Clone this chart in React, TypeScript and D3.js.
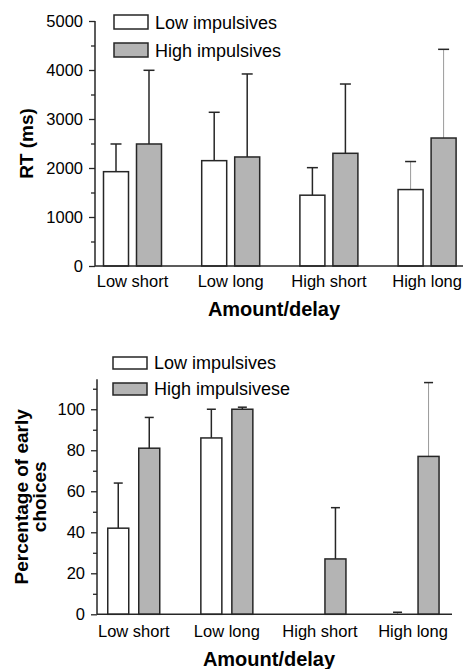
import React, { useEffect, useRef } from "react";
import * as d3 from "d3";

const categories = ["Low short", "Low long", "High short", "High long"];
const series = ["Low impulsives", "High impulsives"];
const series2 = ["Low impulsives", "High impulsivese"];

// RT (ms): means and upper error (SD)
const rtLowMean = [1925, 2150, 1445, 1560];
const rtLowSd = [565, 987, 562, 572];
const rtHighMean = [2490, 2225, 2300, 2612];
const rtHighSd = [1504, 1694, 1414, 1810];
const rtTicks = [0, 1000, 2000, 3000, 4000, 5000];

// Percentage of early choices
const pctLowMean = [42, 86, 0, 0];
const pctLowSd = [22, 14, 0, 1];
const pctHighMean = [81, 100, 27, 77];
const pctHighSd = [15, 1, 25, 36];
const pctTicks = [0, 20, 40, 60, 80, 100];

const FONT = "'Liberation Sans', Arial, Helvetica, sans-serif";
const INK = "#262626";
const FILLS = ["#ffffff", "#b4b4b4"];

type PanelOpts = {
  g: d3.Selection<SVGGElement, unknown, null, undefined>;
  axisX: number;
  yTop: number;
  yBottom: number;
  domainMax: number;
  ticks: number[];
  minorStep: number;
  xRange: [number, number];
  innerWidth: number;
  innerPad: number;
  axisEnd: number;
  means: number[][];
  sds: number[][];
  capW: number;
  names: string[];
  legendX: number;
  legendY: number[];
  legendBoxH: number;
  labelY: number;
  titleY: number;
  titleX: number;
  yTitle: string[];
  yTitleX: number;
};

function drawPanel(o: PanelOpts) {
  const { g } = o;
  const y = d3.scaleLinear().domain([0, o.domainMax]).range([o.yBottom, o.yTop]);
  const x0 = d3.scaleBand().domain(categories).range(o.xRange).padding(0);
  const x1 = d3
    .scaleBand()
    .domain(["0", "1"])
    .range([0, o.innerWidth])
    .paddingInner(o.innerPad)
    .paddingOuter(0);

  // bars + error bars
  categories.forEach((c, i) => {
    const cx = (x0(c) as number) + x0.bandwidth() / 2 - o.innerWidth / 2;
    [0, 1].forEach((s) => {
      const v = o.means[s][i];
      const sd = o.sds[s][i];
      const bx = cx + (x1(String(s)) as number);
      const mid = bx + x1.bandwidth() / 2;
      const light = c === "High long";
      if (sd > 0) {
        g.append("line")
          .attr("x1", mid)
          .attr("x2", mid)
          .attr("y1", y(v))
          .attr("y2", y(v + sd))
          .attr("stroke", light ? "#9a9a9a" : INK)
          .attr("stroke-width", light ? 1 : 1.5);
        g.append("line")
          .attr("x1", mid - o.capW / 2)
          .attr("x2", mid + o.capW / 2)
          .attr("y1", y(v + sd))
          .attr("y2", y(v + sd))
          .attr("stroke", INK)
          .attr("stroke-width", 1.5);
      }
      if (v > 0) {
        g.append("rect")
          .attr("x", bx)
          .attr("y", y(v))
          .attr("width", x1.bandwidth())
          .attr("height", y(0) - y(v))
          .attr("fill", FILLS[s])
          .attr("stroke", INK)
          .attr("stroke-width", 1.5);
      }
    });
  });

  // y axis: major and minor ticks
  const minor = d3.range(0, o.domainMax + 0.001, o.minorStep).filter((t) => !o.ticks.includes(t));
  const yMinor = g
    .append("g")
    .attr("transform", `translate(${o.axisX},0)`)
    .call(d3.axisLeft(y).tickValues(minor).tickSize(4).tickFormat(() => ""));
  yMinor.select(".domain").remove();
  yMinor.selectAll("line").attr("stroke", INK).attr("stroke-width", 1.3);

  const yAxis = g
    .append("g")
    .attr("transform", `translate(${o.axisX},0)`)
    .call(d3.axisLeft(y).tickValues(o.ticks).tickSize(6).tickPadding(6).tickFormat(d3.format("d")));
  yAxis.select(".domain").attr("d", `M0,${o.yTop}V${o.yBottom}`).attr("stroke", INK).attr("stroke-width", 1.5);
  yAxis.selectAll("line").attr("stroke", INK).attr("stroke-width", 1.3);
  yAxis.selectAll("text").attr("font-family", FONT).attr("font-size", 16.5).attr("fill", "#000");

  // x axis line
  g.append("line")
    .attr("x1", o.axisX)
    .attr("x2", o.axisEnd)
    .attr("y1", o.yBottom)
    .attr("y2", o.yBottom)
    .attr("stroke", INK)
    .attr("stroke-width", 1.5);

  // category labels
  g.selectAll("text.cat")
    .data(categories)
    .enter()
    .append("text")
    .attr("class", "cat")
    .attr("x", (d) => (x0(d) as number) + x0.bandwidth() / 2)
    .attr("y", o.labelY)
    .attr("text-anchor", "middle")
    .attr("font-family", FONT)
    .attr("font-size", 16.5)
    .attr("fill", "#000")
    .text((d) => d);

  g.append("text")
    .attr("x", o.titleX)
    .attr("y", o.titleY)
    .attr("text-anchor", "middle")
    .attr("font-family", FONT)
    .attr("font-size", 20)
    .attr("font-weight", "bold")
    .attr("fill", "#000")
    .text("Amount/delay");

  // y title (rotated)
  const cy = (o.yTop + o.yBottom) / 2;
  o.yTitle.forEach((t, k) => {
    const tx = o.yTitleX + k * 18;
    g.append("text")
      .attr("transform", `translate(${tx},${cy}) rotate(-90)`)
      .attr("text-anchor", "middle")
      .attr("font-family", FONT)
      .attr("font-size", 19)
      .attr("font-weight", "bold")
      .attr("fill", "#000")
      .text(t);
  });

  // legend
  o.names.forEach((n, s) => {
    g.append("rect")
      .attr("x", o.legendX)
      .attr("y", o.legendY[s])
      .attr("width", 34)
      .attr("height", o.legendBoxH)
      .attr("fill", FILLS[s])
      .attr("stroke", INK)
      .attr("stroke-width", 1.5);
    g.append("text")
      .attr("x", o.legendX + 41)
      .attr("y", o.legendY[s] + o.legendBoxH - 0.5)
      .attr("font-family", FONT)
      .attr("font-size", 18)
      .attr("fill", "#000")
      .text(n);
  });
}

export default function App() {
  const ref = useRef<SVGSVGElement>(null);

  useEffect(() => {
    const svg = d3.select(ref.current);
    svg.selectAll("*").remove();

    drawPanel({
      g: svg.append("g"),
      axisX: 95,
      yTop: 21,
      yBottom: 266,
      domainMax: 5000,
      ticks: rtTicks,
      minorStep: 500,
      xRange: [83.4, 476.2],
      innerWidth: 58,
      innerPad: 0.2424,
      axisEnd: 463,
      means: [rtLowMean, rtHighMean],
      sds: [rtLowSd, rtHighSd],
      capW: 11,
      names: series,
      legendX: 114,
      legendY: [15, 43],
      legendBoxH: 14,
      labelY: 286.5,
      titleY: 316,
      titleX: 274,
      yTitle: ["RT (ms)"],
      yTitleX: 33,
    });

    drawPanel({
      g: svg.append("g"),
      axisX: 97,
      yTop: 379.3,
      yBottom: 614.3,
      domainMax: 114.6,
      ticks: pctTicks,
      minorStep: 10,
      xRange: [87.2, 459.6],
      innerWidth: 52,
      innerPad: 0.3226,
      axisEnd: 452,
      means: [pctLowMean, pctHighMean],
      sds: [pctLowSd, pctHighSd],
      capW: 9,
      names: series2,
      legendX: 113,
      legendY: [357, 383],
      legendBoxH: 12,
      labelY: 636.5,
      titleY: 665.5,
      titleX: 269,
      yTitle: ["Percentage of early", "choices"],
      yTitleX: 28,
    });
  }, []);

  return (
    <svg
      ref={ref}
      width={463}
      height={669}
      style={{ position: "absolute", left: 0, top: 0, background: "#fff" }}
    />
  );
}
